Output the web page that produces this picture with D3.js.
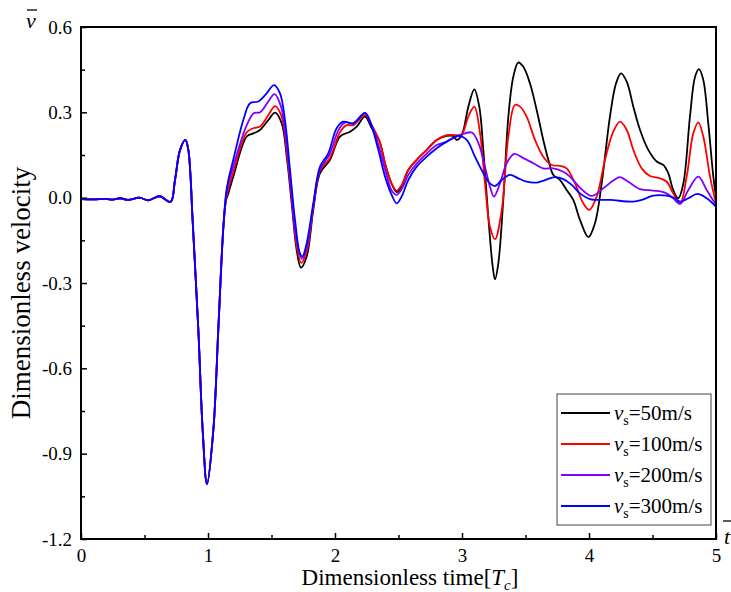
<!DOCTYPE html>
<html>
<head>
<meta charset="utf-8">
<script src="https://cdn.jsdelivr.net/npm/d3@7"></script>
<style>
  body { margin: 0; background: #fff; }
</style>
</head>
<body>
<div id="chart"></div>
<script>
// Data: [time, velocity]
const common = [
  [0, -0.005], [0.1, -0.006], [0.2, -0.004], [0.25, -0.007], [0.31, -0.002],
  [0.37, -0.008], [0.46, 0.0], [0.53, -0.009], [0.62, 0.005], [0.705, -0.015],
  [0.74, 0.062], [0.78, 0.168], [0.822, 0.203], [0.845, 0.168], [0.864, 0.062],
  [0.876, -0.055], [0.924, -0.465], [0.958, -0.817], [0.992, -1.007],
  [1.042, -0.817], [1.081, -0.465], [1.12, -0.11]
];

const v50 = [
  [1.142, -0.01], [1.160, 0.015], [1.199, 0.074], [1.305, 0.215], [1.357, 0.226],
  [1.409, 0.238], [1.475, 0.273], [1.528, 0.299], [1.580, 0.262], [1.620, 0.144],
  [1.659, -0.02], [1.698, -0.184], [1.732, -0.246], [1.777, -0.207], [1.829, -0.043],
  [1.882, 0.086], [1.961, 0.133], [2.039, 0.215], [2.118, 0.232], [2.171, 0.25],
  [2.236, 0.285], [2.289, 0.245], [2.349, 0.2], [2.40, 0.11], [2.45, 0.045],
  [2.486, 0.02], [2.525, 0.04], [2.577, 0.097], [2.643, 0.133], [2.722, 0.168],
  [2.801, 0.203], [2.88, 0.217], [2.932, 0.217], [2.958, 0.203], [2.998, 0.22],
  [3.05, 0.32], [3.097, 0.381], [3.136, 0.32], [3.168, 0.168], [3.207, -0.067],
  [3.242, -0.243], [3.260, -0.287], [3.286, -0.231], [3.325, -0.008], [3.365, 0.285],
  [3.404, 0.425], [3.443, 0.475], [3.483, 0.46], [3.535, 0.402], [3.588, 0.308],
  [3.640, 0.203], [3.680, 0.133], [3.719, 0.08], [3.772, 0.062], [3.824, 0.027],
  [3.876, -0.008], [3.929, -0.078], [3.995, -0.139], [4.047, -0.09], [4.100, 0.05],
  [4.165, 0.285], [4.213, 0.402], [4.252, 0.437], [4.297, 0.408], [4.349, 0.32],
  [4.402, 0.238], [4.467, 0.168], [4.533, 0.127], [4.585, 0.115], [4.624, 0.086],
  [4.663, 0.027], [4.703, -0.002], [4.743, 0.05], [4.795, 0.285], [4.835, 0.425],
  [4.866, 0.452], [4.900, 0.414], [4.939, 0.262], [4.979, 0.074], [5.0, 0.004]
];

const v100 = [
  [1.142, -0.005], [1.160, 0.03], [1.199, 0.09], [1.305, 0.23], [1.357, 0.244],
  [1.409, 0.25], [1.475, 0.29], [1.528, 0.322], [1.58, 0.285], [1.62, 0.16],
  [1.659, 0.0], [1.698, -0.17], [1.735, -0.229], [1.777, -0.19], [1.829, -0.035],
  [1.882, 0.095], [1.961, 0.14], [2.039, 0.23], [2.092, 0.255], [2.144, 0.255],
  [2.236, 0.29], [2.289, 0.255], [2.349, 0.2], [2.40, 0.11], [2.45, 0.045],
  [2.486, 0.025], [2.525, 0.045], [2.577, 0.097], [2.643, 0.133], [2.722, 0.168],
  [2.801, 0.203], [2.88, 0.22], [2.95, 0.22], [2.998, 0.223], [3.05, 0.285],
  [3.097, 0.32], [3.142, 0.226], [3.181, 0.05], [3.220, -0.102], [3.260, -0.146],
  [3.313, -0.043], [3.365, 0.215], [3.417, 0.326], [3.457, 0.32], [3.509, 0.285],
  [3.575, 0.203], [3.640, 0.144], [3.706, 0.115], [3.772, 0.112], [3.824, 0.103],
  [3.890, 0.05], [3.955, -0.02], [4.002, -0.043], [4.061, 0.004], [4.126, 0.133],
  [4.191, 0.232], [4.244, 0.267], [4.297, 0.238], [4.349, 0.168], [4.415, 0.103],
  [4.480, 0.076], [4.559, 0.068], [4.612, 0.056], [4.663, 0.015], [4.717, -0.02],
  [4.769, 0.074], [4.821, 0.226], [4.861, 0.265], [4.900, 0.215], [4.953, 0.074],
  [5.0, -0.02]
];

const v200 = [
  [1.142, 0.005], [1.160, 0.05], [1.199, 0.11], [1.30, 0.25], [1.36, 0.297],
  [1.41, 0.30], [1.47, 0.335], [1.524, 0.364], [1.575, 0.32], [1.615, 0.2],
  [1.655, 0.03], [1.69, -0.13], [1.74, -0.215], [1.777, -0.175], [1.829, -0.03],
  [1.882, 0.1], [1.955, 0.15], [2.03, 0.24], [2.08, 0.265], [2.144, 0.26],
  [2.236, 0.298], [2.289, 0.255], [2.345, 0.18], [2.40, 0.09], [2.446, 0.025],
  [2.486, 0.01], [2.525, 0.03], [2.577, 0.08], [2.643, 0.12], [2.722, 0.155],
  [2.801, 0.185], [2.88, 0.197], [2.985, 0.22], [3.077, 0.229], [3.13, 0.191],
  [3.181, 0.109], [3.22, 0.039], [3.252, 0.004], [3.299, 0.05], [3.352, 0.121],
  [3.412, 0.154], [3.483, 0.139], [3.562, 0.121], [3.64, 0.103], [3.719, 0.103],
  [3.798, 0.091], [3.850, 0.074], [3.929, 0.035], [4.021, 0.006], [4.113, 0.033],
  [4.191, 0.06], [4.244, 0.072], [4.309, 0.056], [4.402, 0.03], [4.506, 0.025],
  [4.598, 0.018], [4.663, -0.002], [4.717, -0.022], [4.782, 0.027], [4.861, 0.074],
  [4.927, 0.027], [5.0, -0.026]
];

const v300 = [
  [1.142, 0.015], [1.160, 0.062], [1.199, 0.133], [1.278, 0.273], [1.331, 0.332],
  [1.396, 0.338], [1.462, 0.367], [1.520, 0.396], [1.567, 0.367], [1.606, 0.273],
  [1.646, 0.097], [1.685, -0.078], [1.724, -0.196], [1.743, -0.207], [1.777, -0.16],
  [1.829, -0.02], [1.882, 0.109], [1.947, 0.156], [2.013, 0.244], [2.065, 0.267],
  [2.144, 0.262], [2.236, 0.297], [2.289, 0.25], [2.341, 0.168], [2.394, 0.074],
  [2.446, 0.01], [2.486, -0.02], [2.525, 0.004], [2.577, 0.062], [2.643, 0.109],
  [2.722, 0.144], [2.801, 0.174], [2.880, 0.197], [2.971, 0.217], [3.037, 0.203],
  [3.102, 0.144], [3.168, 0.086], [3.220, 0.05], [3.260, 0.041], [3.313, 0.062],
  [3.378, 0.08], [3.443, 0.068], [3.509, 0.056], [3.588, 0.053], [3.654, 0.062],
  [3.732, 0.072], [3.798, 0.065], [3.864, 0.045], [3.929, 0.015], [4.008, -0.005],
  [4.165, -0.008], [4.349, -0.014], [4.415, -0.008], [4.506, 0.007], [4.612, 0.007],
  [4.677, -0.002], [4.717, -0.014], [4.782, -0.002], [4.853, 0.013], [4.927, -0.002],
  [5.0, -0.032]
];

const seriesNames = ["50m/s", "100m/s", "200m/s", "300m/s"];
const seriesColors = ["#000000", "#ff0000", "#8000ff", "#0000ff"];
const xTicks = [0, 1, 2, 3, 4, 5];
const yTicks = [-1.2, -0.9, -0.6, -0.3, 0.0, 0.3, 0.6];

const W = 731, H = 592;
const margin = { top: 27, right: 15, bottom: 53, left: 81 };
const serif = "'Liberation Serif', 'Times New Roman', 'DejaVu Serif', serif";

const svg = d3.select("#chart").append("svg")
  .attr("width", W)
  .attr("height", H)
  .attr("font-family", serif);

const x = d3.scaleLinear().domain([0, 5]).range([margin.left, W - margin.right]);
const y = d3.scaleLinear().domain([-1.2, 0.6]).range([H - margin.bottom, margin.top]);

// clip lines to the plot frame
svg.append("clipPath").attr("id", "clip")
  .append("rect")
  .attr("x", x(0)).attr("y", y(0.6))
  .attr("width", x(5) - x(0)).attr("height", y(-1.2) - y(0.6));

const line = d3.line()
  .x(d => x(d[0]))
  .y(d => y(d[1]))
  .curve(d3.curveCatmullRom.alpha(0.5));

const all = [v50, v100, v200, v300].map(s => common.concat(s));

svg.append("g").attr("clip-path", "url(#clip)")
  .selectAll("path")
  .data(all)
  .join("path")
  .attr("d", line)
  .attr("fill", "none")
  .attr("stroke", (d, i) => seriesColors[i])
  .attr("stroke-width", 1.8)
  .attr("stroke-linejoin", "round");

// axes (ticks pointing inward)
const fmtY = d => d === 0 ? "0.0" : d3.format(".1f")(d).replace("−", "-");

const yAxis = d3.axisLeft(y).tickValues(yTicks).tickFormat(fmtY).tickSizeInner(-6).tickSizeOuter(0).tickPadding(9);
const yMinor = d3.axisLeft(y).tickValues(d3.range(-1.05, 0.6, 0.3)).tickFormat("").tickSizeInner(-4).tickSizeOuter(0);
const xAxis = d3.axisBottom(x).tickValues(xTicks).tickFormat(d3.format("d")).tickSizeInner(-6).tickSizeOuter(0).tickPadding(10);
const xMinor = d3.axisBottom(x).tickValues(d3.range(0.5, 5, 1)).tickFormat("").tickSizeInner(-4).tickSizeOuter(0);

function styleAxis(g) {
  g.attr("font-family", serif);
  g.select(".domain").remove();
  g.selectAll("line").attr("stroke", "#000").attr("stroke-width", 1.5);
  g.selectAll("text").attr("font-size", 19).attr("fill", "#000");
}

svg.append("g").attr("transform", `translate(${x(0)},0)`).call(yAxis).call(styleAxis);
svg.append("g").attr("transform", `translate(${x(0)},0)`).call(yMinor).call(styleAxis);
svg.append("g").attr("transform", `translate(0,${y(-1.2)})`).call(xAxis).call(styleAxis);
svg.append("g").attr("transform", `translate(0,${y(-1.2)})`).call(xMinor).call(styleAxis);

// frame
svg.append("rect")
  .attr("x", x(0)).attr("y", y(0.6))
  .attr("width", x(5) - x(0)).attr("height", y(-1.2) - y(0.6))
  .attr("fill", "none").attr("stroke", "#000").attr("stroke-width", 2);

// axis titles
svg.append("text")
  .attr("x", 410).attr("y", 585)
  .attr("text-anchor", "middle").attr("font-size", 23)
  .html('Dimensionless time[<tspan font-style="italic">T</tspan><tspan font-style="italic" font-size="15" dy="5">c</tspan><tspan dy="-5">]</tspan>');

svg.append("text")
  .attr("transform", `translate(30,293) rotate(-90)`)
  .attr("text-anchor", "middle").attr("font-size", 27)
  .text("Dimensionless velocity");

// v-bar and t-bar symbols
svg.append("text").attr("x", 26).attr("y", 28).attr("font-size", 22)
  .attr("font-style", "italic").text("v");
svg.append("line").attr("x1", 27).attr("x2", 37).attr("y1", 10).attr("y2", 10)
  .attr("stroke", "#000").attr("stroke-width", 1.3);
svg.append("text").attr("x", 724).attr("y", 544).attr("font-size", 22)
  .attr("font-style", "italic").text("t");
svg.append("line").attr("x1", 723).attr("x2", 731).attr("y1", 521).attr("y2", 521)
  .attr("stroke", "#000").attr("stroke-width", 1.3);

// legend
const lg = svg.append("g").attr("transform", "translate(557,394)");
lg.append("rect").attr("width", 154).attr("height", 131)
  .attr("fill", "#fff").attr("stroke", "#444").attr("stroke-width", 1);

const rows = lg.selectAll("g.row").data(seriesNames).join("g")
  .attr("class", "row")
  .attr("transform", (d, i) => `translate(0,${19 + i * 31})`);
rows.append("line")
  .attr("x1", 4).attr("x2", 53)
  .attr("stroke", (d, i) => seriesColors[i]).attr("stroke-width", 1.8);
rows.append("text")
  .attr("x", 57).attr("y", 7).attr("font-size", 21)
  .html(d => `<tspan font-style="italic">v</tspan><tspan font-size="14" dy="5">s</tspan><tspan dy="-5">=${d}</tspan>`);
</script>
</body>
</html>
